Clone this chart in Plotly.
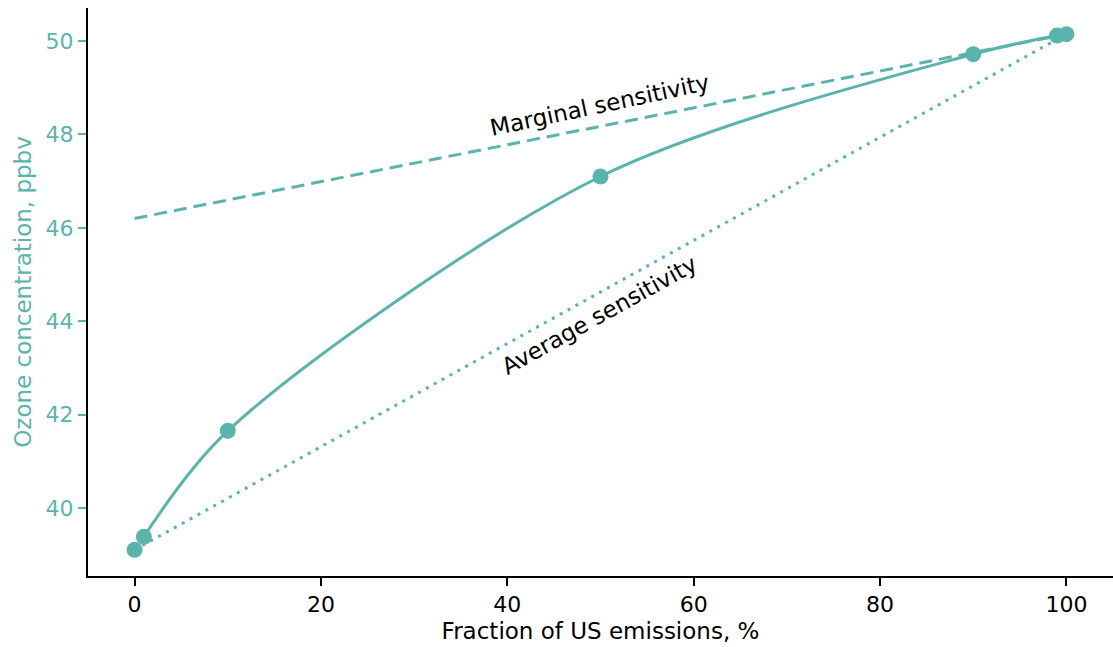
import plotly.graph_objects as go

# Ozone response to scaled US emissions
fraction = [0, 1, 10, 50, 90, 99, 100]
ozone = [39.1, 39.38, 41.65, 47.1, 49.72, 50.12, 50.15]

# Sensitivity lines: tangent at 100% (marginal) and chord from 0% (average)
marginal_x = [0, 100]
marginal_y = [46.2, 50.15]
average_x = [0, 100]
average_y = [39.1, 50.15]

teal = "#5ab4ac"
font_family = "DejaVu Sans, Verdana, sans-serif"

fig = go.Figure()

fig.add_trace(go.Scatter(
    x=marginal_x, y=marginal_y, mode="lines",
    line=dict(color=teal, width=3, dash="13px,7px"),
    hoverinfo="skip", showlegend=False,
))
fig.add_trace(go.Scatter(
    x=average_x, y=average_y, mode="lines",
    line=dict(color=teal, width=3, dash="3px,6px"),
    hoverinfo="skip", showlegend=False,
))
fig.add_trace(go.Scatter(
    x=fraction[1:], y=ozone[1:], mode="lines",
    line=dict(color=teal, width=3, shape="spline", smoothing=0.9),
    showlegend=False,
))
fig.add_trace(go.Scatter(
    x=fraction, y=ozone, mode="markers",
    marker=dict(color=teal, size=16),
    showlegend=False,
))

fig.add_annotation(
    x=49.9, y=48.63, text="Marginal sensitivity", showarrow=False,
    textangle=-12, font=dict(family=font_family, size=23, color="black"),
)
fig.add_annotation(
    x=49.9, y=44.13, text="Average sensitivity", showarrow=False,
    textangle=-29, font=dict(family=font_family, size=23, color="black"),
)

fig.update_layout(
    width=1113, height=647,
    margin=dict(l=88, r=0, t=8, b=71),
    plot_bgcolor="white", paper_bgcolor="white",
    font=dict(family=font_family, size=22, color="black"),
    xaxis=dict(
        range=[-5, 105], tickvals=[0, 20, 40, 60, 80, 100],
        showgrid=False, zeroline=False,
        showline=True, linecolor="black", linewidth=2,
        ticks="outside", ticklen=8, tickwidth=1.5, tickcolor="black",
        tickfont=dict(size=22, color="black"),
        title=dict(text="Fraction of US emissions, %", font=dict(size=23, color="black"), standoff=6),
    ),
    yaxis=dict(
        range=[38.54, 50.71], tickvals=[40, 42, 44, 46, 48, 50],
        showgrid=False, zeroline=False,
        showline=True, linecolor="black", linewidth=2,
        ticks="outside", ticklen=8, tickwidth=1.5, tickcolor=teal,
        tickfont=dict(size=22, color=teal),
        title=dict(text="Ozone concentration, ppbv", font=dict(size=23, color=teal), standoff=8),
    ),
)

fig.write_html("out.html")
